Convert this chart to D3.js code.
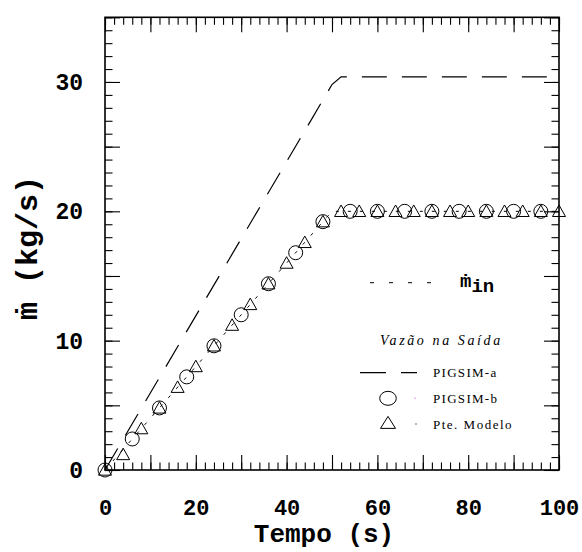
<!DOCTYPE html>
<html>
<head>
<meta charset="utf-8">
<script src="https://cdn.jsdelivr.net/npm/d3@7"></script>
<style>
  body { margin: 0; background: #fff; }
  svg { display: block; }
  .eixo text { font-family: "Liberation Mono", "Courier New", monospace; font-weight: bold; font-size: 22px; fill: #000; }
  .eixo line { stroke: #000; stroke-width: 1.1; }
  .legenda { font-family: "Liberation Serif", "Times New Roman", serif; font-size: 13px; fill: #000; }
</style>
</head>
<body>
<svg width="582" height="552"></svg>
<script>
// PIGSIM-a (linha tracejada)
var tempoA = [0, 50, 52, 100];
var vazaoA = [0, 29.8, 30.4, 30.4];

// PIGSIM-b (circulos)
var tempoB = [0, 6, 12, 18, 24, 30, 36, 42, 48, 54, 60, 66, 72, 78, 84, 90, 96];
var vazaoB = [0, 2.4, 4.8, 7.2, 9.6, 12, 14.4, 16.8, 19.2, 20, 20, 20, 20, 20, 20, 20, 20];

// Pte. Modelo (triangulos)
var tempoM = [0, 4, 8, 12, 16, 20, 24, 28, 32, 36, 40, 44, 48, 52, 56, 60, 64, 68, 72, 76, 80, 84, 88, 92, 96, 100];
var vazaoM = [0, 1.2, 3.2, 4.8, 6.4, 8, 9.6, 11.2, 12.8, 14.4, 16, 17.6, 19.2, 20, 20, 20, 20, 20, 20, 20, 20, 20, 20, 20, 20, 20];

// vazao de entrada (pontilhada)
var tempoIn = [0, 50, 100];
var vazaoIn = [0, 20, 20];

// rotulos dos eixos
var rotulosX = [0, 20, 40, 60, 80, 100];
var rotulosY = [0, 10, 20, 30];

var svg = d3.select("svg");

var x = d3.scaleLinear().domain([0, 100]).range([105, 559]);
var y = d3.scaleLinear().domain([0, 35]).range([470, 17.3]);

// Eixos com marcas para dentro
function eixo(gerador, transf, valores, tamanho, fmt, pad) {
  var g = svg.append("g")
      .attr("class", "eixo")
      .attr("transform", transf)
      .call(gerador.tickValues(valores).tickSize(-tamanho).tickPadding(pad || 3).tickFormat(fmt || ""));
  g.select(".domain").remove();
  return g;
}

var menX = d3.range(0, 101, 2), maiX = d3.range(0, 101, 10);
var menY = d3.range(0, 36, 1), maiY = d3.range(0, 36, 5);

eixo(d3.axisBottom(x), "translate(0,470)", menX, 7.5);
eixo(d3.axisBottom(x), "translate(0,470)", maiX, 15,
     function(d) { return rotulosX.indexOf(d) >= 0 ? d : ""; }, 29);
eixo(d3.axisTop(x), "translate(0,17.3)", menX, 7.5);
eixo(d3.axisTop(x), "translate(0,17.3)", maiX, 15);

eixo(d3.axisLeft(y), "translate(105,0)", menY, 7.5);
eixo(d3.axisLeft(y), "translate(105,0)", maiY, 15,
     function(d) { return rotulosY.indexOf(d) >= 0 ? d : ""; }, 22)
  .selectAll("text").style("font-size", "23px");
eixo(d3.axisRight(y), "translate(559,0)", menY, 7.5);
eixo(d3.axisRight(y), "translate(559,0)", maiY, 15);

// moldura
svg.append("rect")
    .attr("x", x(0)).attr("y", y(35))
    .attr("width", x(100) - x(0)).attr("height", y(0) - y(35))
    .attr("fill", "none").attr("stroke", "#000").attr("stroke-width", 1.6);

var linha = d3.line()
    .x(function(d) { return x(d[0]); })
    .y(function(d) { return y(d[1]); });

// vazao de entrada
svg.append("path")
    .datum(d3.zip(tempoIn, vazaoIn))
    .attr("d", linha)
    .attr("fill", "none").attr("stroke", "#000").attr("stroke-width", 1)
    .attr("stroke-dasharray", "3,9");

// PIGSIM-a
svg.append("path")
    .datum(d3.zip(tempoA, vazaoA))
    .attr("d", linha)
    .attr("fill", "none").attr("stroke", "#000").attr("stroke-width", 1.2)
    .attr("stroke-dasharray", "25,15");

// triangulo
function triangulo(cx, cy, w, h) {
  return "M" + cx + "," + (cy - h * 0.55) +
         "L" + (cx + w / 2) + "," + (cy + h * 0.45) +
         "L" + (cx - w / 2) + "," + (cy + h * 0.45) + "Z";
}

svg.append("g").selectAll("circle")
    .data(d3.zip(tempoB, vazaoB))
  .enter().append("circle")
    .attr("cx", function(d) { return x(d[0]); })
    .attr("cy", function(d) { return y(d[1]); })
    .attr("r", 7)
    .attr("fill", "none").attr("stroke", "#000").attr("stroke-width", 1);

svg.append("g").selectAll("path")
    .data(d3.zip(tempoM, vazaoM))
  .enter().append("path")
    .attr("d", function(d) { return triangulo(x(d[0]), y(d[1]), 13, 11.5); })
    .attr("fill", "none").attr("stroke", "#000").attr("stroke-width", 1);

// rotulos dos eixos
svg.append("text")
    .attr("x", 324).attr("y", 542)
    .attr("text-anchor", "middle")
    .style("font-family", "'Liberation Mono', 'Courier New', monospace")
    .style("font-weight", "bold").style("font-size", "26px")
    .text("Tempo (s)");

svg.append("text")
    .attr("transform", "translate(37,248) rotate(-90)")
    .attr("text-anchor", "middle")
    .style("font-family", "'Liberation Mono', 'Courier New', monospace")
    .style("font-weight", "bold").style("font-size", "30px")
    .text("ṁ (kg/s)");

// legenda da vazao de entrada
svg.append("line")
    .attr("x1", 370).attr("x2", 444).attr("y1", 282.7).attr("y2", 282.7)
    .attr("stroke", "#000").attr("stroke-width", 1).attr("stroke-dasharray", "4,15");
var tin = svg.append("text")
    .attr("x", 460).attr("y", 287)
    .style("font-family", "'Liberation Mono', 'Courier New', monospace")
    .style("font-weight", "bold").style("font-size", "19px");
tin.append("tspan").text("ṁ");
tin.append("tspan").attr("dy", 5).style("font-size", "19px").text("in");

// legenda
svg.append("text")
    .attr("class", "legenda")
    .attr("x", 380).attr("y", 345)
    .style("font-style", "italic").style("font-size", "14px").style("letter-spacing", "2.6px")
    .text("Vazão na Saída");

svg.append("line")
    .attr("x1", 360).attr("x2", 417).attr("y1", 372.7).attr("y2", 372.7)
    .attr("stroke", "#000").attr("stroke-width", 1.2).attr("stroke-dasharray", "26,15");
svg.append("text").attr("class", "legenda")
    .attr("x", 433).attr("y", 377).style("letter-spacing", "1.3px").text("PIGSIM-a");

svg.append("ellipse")
    .attr("cx", 388).attr("cy", 398.3).attr("rx", 8.3).attr("ry", 7)
    .attr("fill", "none").attr("stroke", "#000").attr("stroke-width", 1);
svg.append("circle").attr("cx", 415).attr("cy", 398.3).attr("r", 0.7).attr("fill", "#e070e0");
svg.append("text").attr("class", "legenda")
    .attr("x", 433).attr("y", 403.3).style("letter-spacing", "1.3px").text("PIGSIM-b");

svg.append("path")
    .attr("d", triangulo(388, 423, 15, 12))
    .attr("fill", "none").attr("stroke", "#000").attr("stroke-width", 1);
svg.append("circle").attr("cx", 416).attr("cy", 424).attr("r", 0.7).attr("fill", "#333");
svg.append("text").attr("class", "legenda")
    .attr("x", 433).attr("y", 429).style("letter-spacing", "1.5px").text("Pte. Modelo");
</script>
</body>
</html>
